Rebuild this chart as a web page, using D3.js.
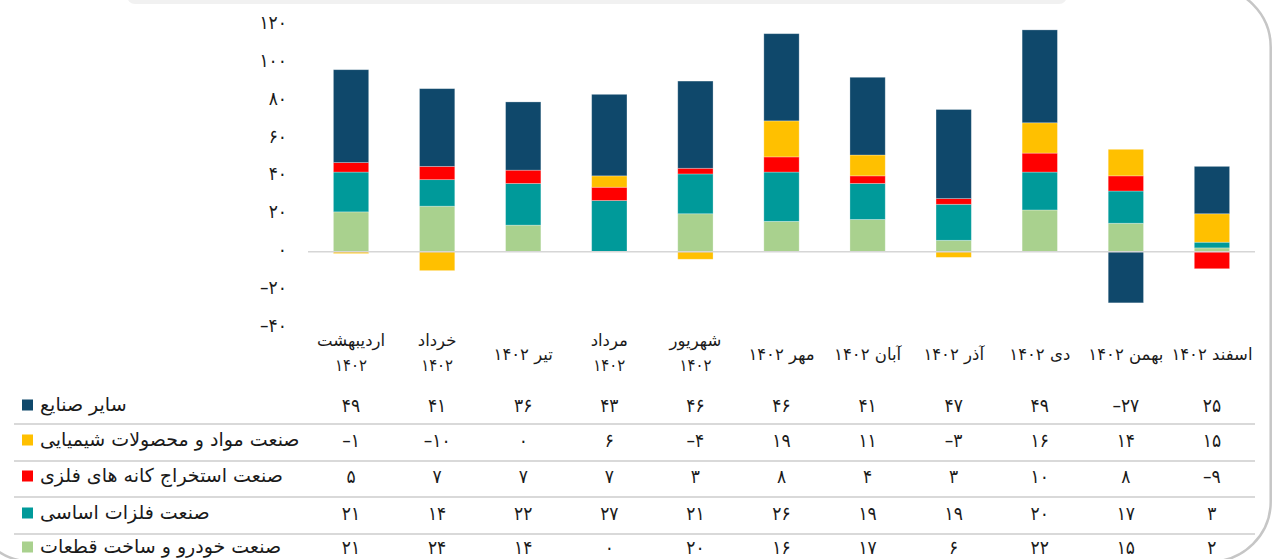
<!DOCTYPE html>
<html><head><meta charset="utf-8">
<script src="https://cdn.jsdelivr.net/npm/d3@7"></script>
<style>
html,body{margin:0;padding:0;background:#fff;overflow:hidden}
svg{display:block}
text{font-family:"DejaVu Sans",sans-serif;fill:#1a1a1a}
text.num{font-family:"DejaVu Sans Condensed","DejaVu Sans",sans-serif}
</style></head>
<body>
<svg id="c" width="1276" height="559"></svg>
<script>
// ---- data ----
const categories = ["اردیبهشت\n۱۴۰۲","خرداد\n۱۴۰۲","تیر ۱۴۰۲","مرداد\n۱۴۰۲","شهریور\n۱۴۰۲","مهر ۱۴۰۲","آبان ۱۴۰۲","آذر ۱۴۰۲","دی ۱۴۰۲","بهمن ۱۴۰۲","اسفند ۱۴۰۲"];
const seriesNames = ["سایر صنایع","صنعت مواد و محصولات شیمیایی","صنعت استخراج کانه های فلزی","صنعت فلزات اساسی","صنعت خودرو و ساخت قطعات"];
const otherIndustries = [49,41,36,43,46,46,41,47,49,-27,25];
const chemicals       = [-1,-10,0,6,-4,19,11,-3,16,14,15];
const metalMining     = [5,7,7,7,3,8,4,3,10,8,-9];
const basicMetals     = [21,14,22,27,21,26,19,19,20,17,3];
const automotive      = [21,24,14,0,20,16,17,6,22,15,2];
const yTicks = [-40,-20,0,20,40,60,80,100,120];
const colors = ["#0f486b","#ffc000","#ff0000","#009a9a","#a9d18e"];

const seriesValues = [otherIndustries, chemicals, metalMining, basicMetals, automotive];
const fa = n => String(n).replace(/-/g,"–").replace(/\d/g, d => "۰۱۲۳۴۵۶۷۸۹"[d]);

const svg = d3.select("#c");

// frame
svg.append("rect").attr("x",-28).attr("y",-13).attr("width",1298.7).attr("height",574.5)
  .attr("rx",60).attr("fill","none").attr("stroke","#c6c6c6").attr("stroke-width",2.5);
svg.append("rect").attr("x",127).attr("y",-20).attr("width",940).attr("height",24)
  .attr("rx",8).attr("fill","#f1f1f1");

const x = d3.scaleBand().domain(d3.range(categories.length)).range([308,1255])
  .paddingInner(0.59).paddingOuter(0.295);
const y = d3.scaleLinear().domain([-40,120]).range([327.5,24.2]);
const cx = i => x(i) + x.bandwidth()/2;

// stacking: bottom-up order green, teal, red, yellow, blue
const stackOrder = [4,3,2,1,0];
const rows = categories.map((c,i)=>{const o={i}; seriesValues.forEach((s,k)=>o[k]=s[i]); return o;});
const stack = d3.stack().keys(stackOrder).offset(d3.stackOffsetDiverging)(rows);

svg.append("g").selectAll("g").data(stack).join("g")
  .attr("fill", d=>colors[d.key])
  .selectAll("rect").data(d=>d.filter(e=>e[0]!==e[1])).join("rect")
  .attr("x", d=>x(d.data.i))
  .attr("width", x.bandwidth())
  .attr("y", d=>y(Math.max(d[0],d[1])))
  .attr("height", d=>Math.abs(y(d[0])-y(d[1])))
  .attr("stroke","rgba(255,255,255,0.35)").attr("stroke-width",0.8);

// zero line
svg.append("line").attr("x1",308).attr("x2",1255).attr("y1",y(0)).attr("y2",y(0))
  .attr("stroke","#d6d6d6").attr("stroke-width",1.5);

// y axis
const yAxis = d3.axisLeft(y).tickValues(yTicks).tickFormat(fa).tickSize(0).tickPadding(0);
const ga = svg.append("g").attr("transform","translate(287,-2)").call(yAxis);
ga.select(".domain").remove();
ga.selectAll("text").attr("class","num").attr("font-size",19).attr("fill","#1a1a1a")
  .style("font-family",'"DejaVu Sans Condensed","DejaVu Sans",sans-serif');

// category labels (one text per line)
const lines = [];
categories.forEach((d,i)=>{
  const ls = d.split("\n");
  const y0 = ls.length===1 ? 360 : 346;
  ls.forEach((ln,j)=>lines.push({i, t:ln, y:y0+j*25}));
});
svg.append("g").selectAll("text").data(lines).join("text")
  .attr("x",d=>cx(d.i)).attr("y",d=>d.y)
  .attr("text-anchor","middle").attr("direction","rtl").attr("font-size",16.5)
  .attr("class",d=>/^[۰-۹]+$/.test(d.t)?"num":null)
  .text(d=>d.t);

// table
const rowY = [405,440,476,513,547];
const sepY = [424,461,497,534];
svg.append("g").selectAll("line").data(sepY).join("line")
  .attr("x1",14).attr("x2",1255).attr("y1",d=>d).attr("y2",d=>d)
  .attr("stroke","#d9d9d9").attr("stroke-width",2);

seriesNames.forEach((name,k)=>{
  const g = svg.append("g");
  g.append("rect").attr("x",22).attr("y",rowY[k]-5.5).attr("width",11).attr("height",11).attr("fill",colors[k]);
  g.append("text").attr("x",40).attr("y",rowY[k]+6).attr("font-size",19).text(name);
  g.selectAll("text.v").data(seriesValues[k]).join("text").attr("class","v num")
    .attr("x",(d,i)=>cx(i)).attr("y",rowY[k]+6.5)
    .attr("text-anchor","middle").attr("font-size",19).text(fa);
});
</script>
</body></html>
